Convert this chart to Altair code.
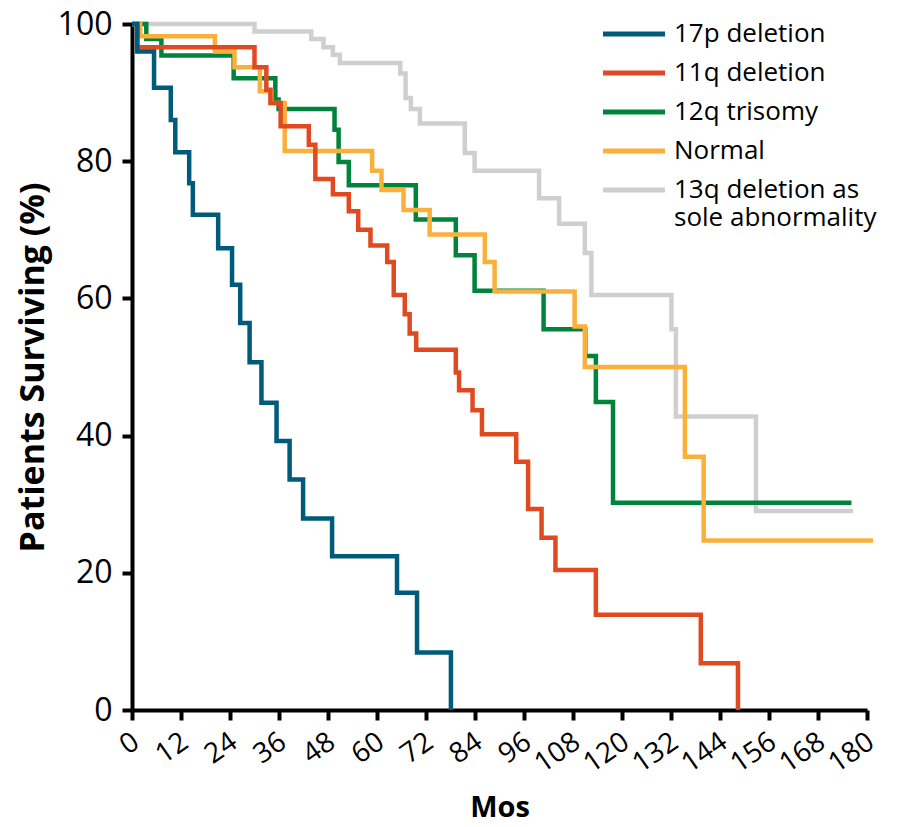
import altair as alt
import pandas as pd

groups = ["17p deletion", "11q deletion", "12q trisomy", "Normal",
          "13q deletion as sole abnormality"]
colors = ["#005b7a", "#e04a20", "#00843c", "#fbb03b", "#cfcfcf"]

# Kaplan-Meier step points (months, % surviving); value holds until next time
t_17p = [0, 1.3, 5.4, 9.5, 10.6, 14.0, 14.9, 21.1, 24.5, 26.5, 28.8, 31.7, 35.4,
         38.6, 41.9, 49.0, 64.9, 69.8, 78.1]
s_17p = [100, 96.0, 90.7, 86.0, 81.3, 76.8, 72.2, 67.3, 62.0, 56.4, 50.7, 44.8, 39.2,
         33.6, 27.9, 22.4, 17.1, 8.4, 0]

t_11q = [0, 1.3, 30.0, 32.9, 33.9, 36.4, 43.3, 44.9, 49.2, 53.1, 55.4, 58.4, 62.5,
         64.1, 66.8, 68.0, 69.6, 79.3, 80.1, 83.4, 85.7, 94.1, 97.0, 100.3, 103.7,
         113.6, 139.3, 148.4]
s_11q = [100, 96.6, 93.7, 90.4, 88.5, 85.1, 82.4, 77.4, 75.2, 72.7, 70.0, 67.7, 65.3,
         60.5, 57.7, 54.9, 52.5, 49.2, 46.6, 43.7, 40.2, 36.2, 29.3, 25.1, 20.4,
         13.9, 6.8, 0]

t_12q = [0, 3.5, 7.2, 24.9, 35.1, 35.9, 49.6, 50.6, 53.1, 69.5, 79.3, 83.9, 100.8,
         111.0, 113.6, 117.8, 176.2]
s_12q = [100, 97.8, 95.4, 92.1, 89.0, 87.6, 84.6, 79.9, 76.5, 71.5, 66.3, 61.1, 55.5,
         51.6, 44.9, 30.2, 30.2]

t_norm = [0, 2.0, 20.3, 25.1, 31.3, 34.1, 37.4, 58.8, 61.1, 66.5, 72.9, 86.4, 88.8,
          108.4, 110.9, 135.4, 140.0, 181.5]
s_norm = [100, 98.2, 96.0, 93.7, 90.2, 88.5, 81.5, 78.6, 75.8, 72.9, 69.3, 65.3, 61.0,
          55.9, 50.0, 36.9, 24.7, 24.7]

t_13q = [0, 30.0, 43.9, 46.9, 49.2, 50.9, 65.7, 67.0, 68.3, 70.5, 81.5, 83.9, 99.7,
         104.6, 110.9, 112.5, 132.1, 133.2, 152.8, 176.6]
s_13q = [100, 98.9, 97.8, 96.6, 95.5, 94.3, 92.8, 89.2, 87.6, 85.5, 81.2, 78.6, 74.6,
         70.9, 66.6, 60.5, 55.5, 42.8, 29.0, 29.0]

x_ticks = list(range(0, 181, 12))
y_ticks = [0, 20, 40, 60, 80, 100]

series = {
    "17p deletion": (t_17p, s_17p),
    "11q deletion": (t_11q, s_11q),
    "12q trisomy": (t_12q, s_12q),
    "Normal": (t_norm, s_norm),
    "13q deletion as sole abnormality": (t_13q, s_13q),
}
draw_order = ["13q deletion as sole abnormality", "12q trisomy", "Normal",
              "11q deletion", "17p deletion"]

rows = []
for g in draw_order:
    ts, ss = series[g]
    for t, s in zip(ts, ss):
        rows.append({"group": g, "t": t, "s": s})
df = pd.DataFrame(rows)

FONT = "Open Sans"

chart = alt.Chart(df).mark_line(interpolate="step-after", strokeWidth=4.5).encode(
    x=alt.X("t:Q", title="Mos",
            scale=alt.Scale(domain=[0, 180], nice=False, zero=False),
            axis=alt.Axis(values=x_ticks, labelAngle=-35, labelAlign="right",
                          labelBaseline="middle", labelFontSize=28, labelPadding=19,
                          labelOffset=4,
                          labelFlush=False, labelOverlap=False, grid=False,
                          tickSize=10, tickWidth=4, tickColor="black",
                          domainWidth=4, domainColor="black",
                          titleFontSize=29, titleFontWeight="bold",
                          titlePadding=15)),
    y=alt.Y("s:Q", title="Patients Surviving (%)",
            scale=alt.Scale(domain=[0, 100], nice=False),
            axis=alt.Axis(values=y_ticks, labelFontSize=32, labelPadding=10,
                          labelFlush=False, labelOverlap=False, grid=False,
                          tickSize=10, tickWidth=4, tickColor="black",
                          domainWidth=4, domainColor="black",
                          titleFontSize=34, titleFontWeight="bold",
                          titlePadding=7)),
    color=alt.Color("group:N", sort=groups,
                    scale=alt.Scale(domain=groups, range=colors),
                    legend=alt.Legend(
                        title=None, orient="none", legendX=489, legendY=-3,
                        symbolType="M-3,0H3", symbolStrokeWidth=5, symbolSize=427,
                        labelFontSize=26, labelFont=FONT, labelColor="black",
                        labelLimit=500, labelOffset=27, rowPadding=13,
                        labelExpr="datum.label == '13q deletion as sole abnormality' ? ['13q deletion as', 'sole abnormality'] : datum.label")),
).properties(
    width=735, height=686,
    autosize=alt.AutoSizeParams(type="none"),
    padding={"left": 124, "top": 16, "right": 20, "bottom": 110},
    background="white",
).configure_view(stroke=None).configure_axis(
    labelFont=FONT, titleFont=FONT, labelColor="black", titleColor="black"
)

chart.save("out.html", embed_options={"renderer": "svg", "actions": False})
